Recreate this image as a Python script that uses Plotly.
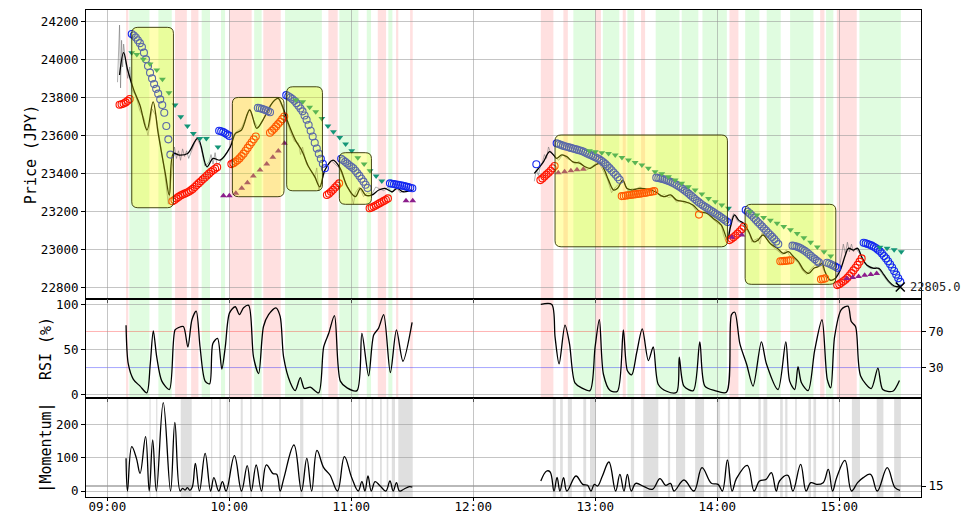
import plotly.graph_objects as go
from plotly.subplots import make_subplots

# ---------------- data (time = minutes after 09:00) ----------------
tick_minutes = [0, 60, 120, 180, 240, 300, 360]
tick_labels = ["09:00", "10:00", "11:00", "12:00", "13:00", "14:00", "15:00"]

# smoothed price, morning session
smooth1_t = [6, 8, 10, 13, 16, 19.5, 22.5, 25, 28.5, 30.5, 32.5, 35.5, 39.5, 44.5, 49, 52, 55.5, 60.5, 63, 66, 70,
             73.5, 76.5, 81.5, 84, 86.5, 89, 92.5, 95.5, 99, 102, 104.5, 107, 111, 114.5, 118, 122, 124.5, 127, 130,
             133.5, 136.5, 140, 142.5, 145.5, 150]
smooth1_p = [23918, 24035, 23944, 23839, 23760, 23629, 23777, 23611, 23401, 23287, 23506, 23497, 23506, 23585, 23436,
             23480, 23471, 23541, 23611, 23629, 23734, 23638, 23681, 23777, 23795, 23743, 23664, 23576, 23524, 23436,
             23384, 23331, 23419, 23471, 23428, 23331, 23279, 23323, 23287, 23287, 23314, 23323, 23305, 23323, 23305,
             23314]
# smoothed price, afternoon session
smooth2_t = [210, 212, 214.5, 217.5, 219.5, 221, 223.5, 226, 229, 232.5, 235, 237.5, 240, 242.5, 244.5, 246.5, 249,
             251, 253.5, 255.5, 258, 262, 266, 269.5, 273.5, 277, 280, 284, 288, 291.5, 295, 298, 302, 305, 306.5,
             308.5, 310.5, 313, 315.5, 318, 320, 322.5, 326, 329.5, 332.5, 335, 337.5, 340, 342.5, 345, 347.5, 349.5,
             351.5, 353, 355.5, 358, 360.5, 363, 364.5, 367, 369, 371, 373.5, 377, 379.5, 382, 384.5, 387, 390]
smooth2_p = [23401, 23427, 23462, 23515, 23498, 23480, 23498, 23489, 23462, 23454, 23436, 23428, 23445, 23454, 23419,
             23366, 23314, 23323, 23366, 23323, 23314, 23323, 23318, 23305, 23279, 23288, 23261, 23253, 23235, 23200,
             23191, 23165, 23130, 23055, 23121, 23183, 23156, 23139, 23095, 23042, 23051, 23078, 23034, 23008, 22981,
             22990, 22964, 22937, 22894, 22876, 22903, 22911, 22929, 22885, 22841, 22850, 22894, 22973, 23008, 22999,
             23008, 22964, 22920, 22903, 22903, 22868, 22833, 22810, 22805]

# raw (noisy) price
raw1_t = [5, 6, 6.5, 7, 7.5, 8, 9, 10, 11, 12, 14, 16, 18, 20, 22, 24, 26, 28, 30, 32, 33, 34, 35, 36, 37, 38, 39,
          40, 42, 44, 46, 48, 50, 51, 52, 53, 54, 56, 58, 60, 62, 64, 66, 68, 70, 72, 74, 76, 78, 80, 82, 84, 86, 88,
          90, 92, 94, 95, 96, 98, 100, 102, 103, 104, 105, 106, 108, 110, 112, 114, 116, 118, 120, 121, 122, 124, 126,
          128, 130, 132, 134, 136, 138, 140, 142, 144, 146, 148, 150]
raw1_p = [23880, 24180, 23850, 24100, 23960, 24080, 23990, 23900, 23960, 23840, 23810, 23730, 23690, 23600, 23740,
          23700, 23560, 23420, 23240, 23420, 23540, 23480, 23520, 23470, 23530, 23490, 23520, 23480, 23540, 23590,
          23540, 23440, 23460, 23500, 23450, 23510, 23440, 23470, 23500, 23530, 23600, 23625, 23640, 23690, 23740,
          23680, 23640, 23670, 23720, 23760, 23780, 23800, 23750, 23680, 23620, 23570, 23560, 23500, 23540, 23450,
          23420, 23380, 23430, 23310, 23350, 23380, 23440, 23470, 23450, 23430, 23380, 23330, 23290, 23240, 23300,
          23330, 23280, 23300, 23290, 23330, 23320, 23310, 23330, 23300, 23330, 23300, 23310, 23320, 23315]
raw2_t = [210, 211, 212, 213, 214, 215, 216, 217, 218, 220, 222, 224, 226, 228, 230, 232, 234, 236, 238, 240, 242,
          244, 246, 248, 250, 252, 254, 256, 258, 260, 262, 264, 266, 268, 270, 272, 274, 276, 278, 280, 282, 284,
          286, 288, 290, 292, 294, 296, 298, 300, 302, 303, 304, 305, 306, 307, 308, 309, 310, 312, 314, 316, 317,
          318, 320, 321, 322, 324, 326, 328, 330, 332, 334, 336, 338, 340, 342, 344, 346, 348, 350, 351, 352, 354,
          356, 358, 360, 361, 362, 363, 364, 365, 366, 367, 368, 370, 372, 374, 376, 378, 380, 382, 384, 386, 388, 390]
raw2_p = [23360, 23420, 23390, 23440, 23460, 23500, 23480, 23540, 23510, 23490, 23470, 23500, 23480, 23470, 23450,
          23465, 23440, 23420, 23435, 23450, 23455, 23410, 23370, 23300, 23330, 23350, 23360, 23310, 23320, 23320,
          23330, 23315, 23320, 23300, 23310, 23280, 23290, 23275, 23280, 23250, 23260, 23245, 23250, 23230, 23200,
          23195, 23200, 23180, 23160, 23140, 23130, 23080, 23050, 23060, 23110, 23160, 23190, 23170, 23150, 23140,
          23110, 23080, 23040, 23050, 23060, 23030, 23090, 23060, 23030, 23010, 22990, 22975, 23000, 22960, 22950,
          22930, 22890, 22870, 22900, 22920, 22910, 22950, 22900, 22860, 22840, 22850, 22900, 22960, 23030, 22980,
          23040, 22990, 23030, 22990, 23010, 22980, 22940, 22910, 22900, 22910, 22890, 22860, 22830, 22810, 22805,
          22805]

# stop-and-reverse dots: (first minute, values one per minute)
sar_below = [
    (6, [23762, 23764, 23768, 23774, 23782, 23792]),
    (32, [23255, 23262, 23270, 23278, 23285, 23290, 23295, 23300, 23305, 23312, 23320, 23330, 23340, 23350, 23360,
          23370, 23380, 23390, 23400, 23410, 23418, 23426, 23434]),
    (61, [23450, 23455, 23462, 23470, 23480, 23492, 23505, 23520, 23535, 23550, 23565, 23580, 23595]),
    (80, [23615, 23625, 23635, 23648, 23660, 23672, 23686, 23700]),
    (108, [23288, 23295, 23305, 23315, 23327, 23338, 23349]),
    (129, [23218, 23222, 23227, 23233, 23239, 23245, 23251, 23257, 23263, 23270]),
    (213, [23366, 23375, 23385, 23395, 23405, 23415, 23428, 23440]),
    (253, [23282, 23283, 23285, 23286, 23288, 23289, 23291, 23292, 23294, 23295, 23297, 23298, 23300, 23302, 23304,
           23306, 23308]),
    (291, [23185]),
    (306, [23051, 23058, 23066, 23075, 23085, 23096, 23108, 23121]),
    (331, [22940, 22941, 22942, 22943, 22944, 22945]),
    (351, [22845, 22847, 22850]),
    (359, [22815, 22820, 22827, 22835, 22843, 22853, 22865, 22878, 22892, 22906, 22921, 22938, 22955]),
]
sar_above = [
    (12, [24133, 24125, 24115, 24100, 24085, 24065, 24035, 24000, 23965, 23930, 23900, 23870, 23845, 23820, 23790,
          23760, 23720, 23650, 23580, 23500]),
    (55, [23625, 23622, 23618, 23612, 23605, 23598]),
    (74, [23745, 23743, 23740, 23737, 23733, 23728, 23722]),
    (88, [23812, 23806, 23800, 23792, 23782, 23770, 23757, 23742, 23727, 23705, 23683, 23655, 23625, 23595, 23562,
          23532, 23505, 23478, 23452, 23428]),
    (115, [23478, 23470, 23462, 23453, 23444, 23436, 23428, 23415, 23402, 23388, 23373, 23358, 23342, 23325]),
    (139, [23349, 23347, 23345, 23343, 23341, 23339, 23337, 23335, 23332, 23329, 23326, 23323]),
    (211, [23449]),
    (221, [23559, 23555, 23551, 23547, 23544, 23541, 23538, 23535, 23532, 23529, 23526, 23523, 23520, 23516, 23511,
           23506, 23501, 23496, 23491, 23486, 23481, 23475, 23467, 23459, 23450, 23440, 23429, 23418, 23406, 23394,
           23381, 23368]),
    (270, [23379, 23377, 23375, 23372, 23369, 23365, 23361, 23357, 23352, 23347, 23341, 23334, 23327, 23319, 23311,
           23303, 23294, 23285, 23276, 23267, 23258, 23249, 23241, 23233, 23226, 23219, 23212, 23205, 23198, 23191,
           23184, 23177, 23170, 23162, 23154, 23146]),
    (314, [23209, 23200, 23190, 23180, 23168, 23156, 23145, 23134, 23123, 23112, 23101, 23090, 23079, 23068, 23056,
           23044, 23030]),
    (337, [23022, 23020, 23017, 23013, 23008, 23002, 22995, 22987, 22978, 22969, 22960, 22951, 22942, 22934]),
    (354, [22932, 22928, 22923, 22918, 22912, 22906]),
    (372, [23037, 23034, 23031, 23027, 23022, 23016, 23009, 23001, 22992, 22981, 22968, 22955, 22940, 22924, 22907,
           22889, 22870, 22851, 22832]),
]

# slower trailing stops (triangles)
stop_down_t = [12, 14.5, 17.7, 21, 24.3, 27.1, 30.3, 33.3, 36.1, 39.4, 42.3, 45.5, 48.7, 54.4,
               92.8, 96.1, 99.5, 102.5, 105.5, 108.5, 111.2, 114.3, 117.2, 120.2, 123.2, 126.3, 129.2, 132.2, 135,
               237.1, 240, 243.2, 246.5, 249.8, 253.1, 256.3, 259.6, 262.9, 266.1, 269.4, 272.7, 276, 279.3, 282.5,
               285.8, 289.1, 292.4, 295.7, 299, 302.2, 305.5,
               316, 319.5, 322.8, 326.1, 329.4, 332.7, 336, 339.3, 342.6, 345.9, 349.2, 352.5, 355.8,
               380, 383.5, 387, 390.5]
stop_down_p = [24035, 24026, 24000, 23975, 23944, 23895, 23825, 23760, 23699, 23650, 23611, 23585, 23585, 23540,
               23786, 23777, 23748, 23725, 23690, 23650, 23620, 23590, 23555, 23520, 23483, 23450, 23415, 23387, 23361,
               23520, 23515, 23510, 23506, 23498, 23485, 23471, 23458, 23445, 23428, 23410, 23400, 23384, 23366, 23349,
               23331, 23314, 23293, 23270, 23253, 23235, 23218,
               23200, 23183, 23170, 23155, 23140, 23123, 23105, 23086, 23063, 23040, 23015, 22990, 22967,
               23013, 23008, 23000, 22990]
stop_up_t = [57.1, 60, 63.2, 66.1, 68.9, 71.8, 75.1, 78.4, 81.4, 84.1, 87.1, 146.9, 150.2,
             221.8, 224.9, 228, 231, 234.1, 307.2, 312.1,
             363.7, 366.6, 369.5, 372.5, 375.5, 378.4]
stop_up_p = [23284, 23284, 23297, 23323, 23352, 23387, 23419, 23450, 23486, 23519, 23559, 23258, 23258,
             23405, 23410, 23415, 23420, 23423, 23066, 23078,
             22850, 22855, 22860, 22866, 22871, 22876]

# highlighted consolidation boxes: (start, end, low, high)
boxes = [(12, 32.5, 23221, 24168), (61.5, 86.9, 23279, 23800), (88.2, 105.8, 23310, 23856),
         (114.1, 129.9, 23239, 23510), (220.2, 305, 23016, 23603), (313.7, 358.3, 22819, 23239)]

# RSI
rsi1_t = [9.2, 10.3, 12.8, 16.1, 19.4, 21.1, 22.6, 24.3, 26.8, 30.5, 33.3, 35, 37.4, 39.6, 41.6, 43.7, 45.6, 48.1,
          50.3, 51.9, 54.2, 56.3, 58, 60.1, 62.9, 65, 67, 69.5, 71.9, 74.4, 76.8, 79.3, 82.9, 85, 86.7, 90, 92.4,
          94.9, 96.9, 99.8, 103.9, 106.4, 108.9, 111.7, 114.6, 117.9, 122.8, 125.2, 128.5, 131, 133.4, 135.9, 139.2,
          142.2, 145.4, 149.9]
rsi1_v = [77, 34, 17, 9.4, 2, 34, 70.6, 41.5, 15, 5.7, 71.7, 74.3, 75.5, 52.8, 83, 92.5, 52.8, 15, 12, 56.6, 62.3,
          28.3, 52.8, 90.6, 97.4, 88.7, 96.2, 98.9, 41.5, 23.4, 75.5, 88.7, 96.2, 86.8, 41.5, 13.2, 4.5, 18.9, 6.8,
          8.3, 1.9, 52.8, 68, 87.5, 15, 7.5, 4.5, 68, 20.8, 66, 73.6, 88.7, 24.5, 71.7, 37, 80]
rsi2_t = [213.2, 218.6, 220.2, 222.2, 225.1, 227.3, 230, 233.3, 237.4, 239.9, 242, 244, 247.3, 250.9, 253.8, 255.8,
          257.9, 260.4, 263.1, 266.1, 268.5, 271, 275.1, 280, 281.3, 283.6, 288.2, 291.4, 293.9, 298.8, 304.5, 307,
          308.6, 311.1, 314.4, 317.6, 321.7, 324.2, 329.9, 333.7, 335.6, 338.1, 339.7, 341.4, 344.7, 347.9, 351.5,
          354.1, 355.8, 357.7, 361, 364.3, 365.9, 368, 370.5, 375.7, 379, 381.4, 386.3, 389.6]
rsi2_v = [100, 100, 64, 34, 77, 56.6, 13, 7.5, 4.5, 52.8, 83, 22.6, 4.5, 3.8, 71.7, 26.4, 21.9, 47, 72.8, 37.7,
          52.8, 11.3, 3.8, 2.6, 41.5, 9.4, 4.5, 58.5, 9.4, 4.5, 2.6, 88.7, 91.3, 56.6, 34, 9.4, 58.5, 34, 5.7, 58.5,
          15, 5.7, 31, 13.2, 4.5, 49, 83, 17, 7.5, 64, 94.3, 98, 81, 75.5, 20.8, 6.8, 29.4, 5.7, 3.8, 15.8]

# |Momentum|
mom1_t = [9.2, 9.9, 12, 14.3, 16.1, 18.8, 20.6, 22.3, 24.1, 27.5, 31.1, 33.2, 35.8, 37, 38.2, 39.4, 40.6, 41.8, 43.3,
          45.3, 48.1, 50.8, 52.4, 54.8, 56.6, 58.4, 62.5, 66, 68.8, 70.8, 73.2, 75.8, 78.2, 81.5, 83.3, 85, 86.8,
          91.8, 95.5, 98.1, 100.5, 103.1, 106.4, 109.5, 113.2, 116.6, 120.2, 123.4, 125.2, 126.7, 128.2, 129.8,
          131.7, 134.2, 137, 139, 140.6, 142.2, 143.7, 146, 148.5, 150]
mom1_v = [98, 0, 133, 98, 53, 163, 0, 153, 0, 265, 0, 206, 0, 8, 3, 10, 2, 12, 83, 0, 113, 0, 40, 0, 28, 0, 106, 0,
          76, 0, 78, 0, 78, 52, 50, 0, 38, 138, 0, 98, 0, 122, 70, 48, 0, 103, 40, 0, 28, 0, 45, 0, 28, 15, 0, 30, 0,
          25, 0, 6, 13, 12]
mom2_t = [213.2, 216.1, 217.8, 219.7, 221.2, 222.6, 224.4, 226, 230.5, 233.8, 236.2, 237.9, 239.5, 241.1, 243.5,
          246.7, 250, 252.1, 254.1, 255.8, 257.7, 259.9, 264, 268.1, 271.8, 274.6, 277, 278.7, 283.6, 288.5, 292.5,
          297.1, 300.4, 302.5, 305, 307.3, 309.4, 314.8, 318.1, 320.8, 324, 326.6, 329, 330.6, 334.7, 337.2, 341,
          343.7, 346, 349, 352.1, 354.6, 356.7, 358.7, 362.8, 366, 369, 371.8, 375.4, 378.7, 383.6, 387.4, 389.9]
mom2_v = [30, 60, 57, 0, 41, 0, 40, 0, 45, 20, 17, 0, 20, 15, 45, 87, 0, 50, 0, 50, 0, 23, 13, 5, 37, 17, 23, 0, 33,
          0, 70, 23, 20, 0, 93, 0, 37, 77, 0, 30, 35, 55, 0, 30, 47, 0, 80, 0, 25, 20, 25, 65, 0, 40, 92, 0, 25, 40,
          50, 0, 70, 10, 2]

# signal bands (start, end minute)
green_bands = [(10.8, 20.7), (25.1, 31.7), (46.4, 50.5), (55.9, 57.9), (72.2, 75.9), (87.4, 105.5), (114.1, 123.5),
               (127.6, 129.7), (138.2, 140.2), (229.2, 239.9), (243.7, 251.8), (255.8, 259.1), (269.7, 281.4),
               (282.5, 290.7), (292.7, 304.7), (313.7, 320.7), (324.3, 331.2), (335.8, 347.3), (353.5, 357.1),
               (369.9, 390.3)]
red_bands = [(9.2, 10.3), (33.3, 39.1), (41.2, 44.8), (60, 71), (76.7, 85.3), (108.7, 113.3), (133, 137.1),
             (142, 143.1), (148.9, 150.2), (213.2, 219.4), (224.3, 226.5), (239.9, 242.8), (253.5, 255),
             (262.5, 264.5), (306, 310.4), (350.6, 352.7), (358.8, 368.6)]
gray_bands = [(9.5, 10.3), (20.7, 21.3), (24, 24.6), (36.1, 41.5), (51, 51.6), (55.1, 55.9), (58.7, 59.5),
              (65.6, 66.6), (70.2, 71), (75.9, 76.7), (84.5, 85.4), (94.8, 96.4), (105.5, 106.2), (112.8, 114),
              (123.5, 124.3), (126.8, 127.6), (130, 130.8), (134.1, 135), (137.4, 138.2), (139.9, 141.5),
              (143.1, 150.2), (219.1, 220.6), (222.7, 224), (226.5, 228.5), (234.1, 235.5), (237.4, 240.2),
              (257.5, 259.1), (263.6, 271), (275.7, 276.8), (279.7, 284.2), (289.1, 293.5), (299.8, 301.4),
              (305.2, 306), (310.4, 311.7), (320.2, 321.4), (322.7, 324.6), (330.9, 332.2), (333.4, 334.5),
              (338.3, 339.1), (344.8, 346.1), (347.3, 348.6), (353.9, 354.7), (356.3, 357.5), (366.2, 370.2),
              (378.4, 381.7), (387, 390.3)]

last_t = 390
last_price = 22805.0

# ---------------- figure ----------------
FONT = "DejaVu Sans Mono"
fig = make_subplots(rows=3, cols=1, shared_xaxes=True, vertical_spacing=0)

D1 = [0.4066, 1.0]
D2 = [0.2033, 0.4066]
D3 = [0.0, 0.2033]

for tt, pp in [(raw1_t, raw1_p), (raw2_t, raw2_p)]:
    fig.add_trace(go.Scatter(x=tt, y=pp, mode="lines", line=dict(color="rgba(110,110,110,0.55)", width=1),
                             hoverinfo="skip", showlegend=False), row=1, col=1)
for tt, pp in [(smooth1_t, smooth1_p), (smooth2_t, smooth2_p)]:
    fig.add_trace(go.Scatter(x=tt, y=pp, mode="lines", line=dict(color="black", width=1.3, shape="spline"),
                             showlegend=False), row=1, col=1)


def seg_points(segs):
    xs, ys = [], []
    for start, vals in segs:
        for i, v in enumerate(vals):
            xs.append(start + i)
            ys.append(v)
    return xs, ys


bx, by = seg_points(sar_below)
ax_, ay_ = seg_points(sar_above)
fig.add_trace(go.Scatter(x=bx, y=by, mode="markers",
                         marker=dict(symbol="circle-open", size=7, color="rgb(255,20,0)", line=dict(width=1.1)),
                         showlegend=False), row=1, col=1)
fig.add_trace(go.Scatter(x=ax_, y=ay_, mode="markers",
                         marker=dict(symbol="circle-open", size=7, color="rgb(20,40,240)", line=dict(width=1.1)),
                         showlegend=False), row=1, col=1)
fig.add_trace(go.Scatter(x=stop_down_t, y=stop_down_p, mode="markers",
                         marker=dict(symbol="triangle-down", size=6, color="rgb(20,150,120)"),
                         showlegend=False), row=1, col=1)
fig.add_trace(go.Scatter(x=stop_up_t, y=stop_up_p, mode="markers",
                         marker=dict(symbol="triangle-up", size=6, color="rgb(140,30,140)"),
                         showlegend=False), row=1, col=1)
fig.add_trace(go.Scatter(x=[last_t], y=[last_price], mode="markers",
                         marker=dict(symbol="x-thin-open", size=9, color="black", line=dict(width=1.5, color="black")),
                         cliponaxis=False, showlegend=False), row=1, col=1)

for tt, vv in [(rsi1_t, rsi1_v), (rsi2_t, rsi2_v)]:
    fig.add_trace(go.Scatter(x=tt, y=vv, mode="lines", line=dict(color="black", width=1.3, shape="spline", smoothing=0.8),
                             showlegend=False), row=2, col=1)
for tt, vv in [(mom1_t, mom1_v), (mom2_t, mom2_v)]:
    fig.add_trace(go.Scatter(x=tt, y=vv, mode="lines", line=dict(color="black", width=1.3, shape="spline", smoothing=1.1),
                             showlegend=False), row=3, col=1)

# dummy traces for right-side axes
fig.add_trace(go.Scatter(x=[None], y=[None], xaxis="x2", yaxis="y4", showlegend=False))
fig.add_trace(go.Scatter(x=[None], y=[None], xaxis="x3", yaxis="y5", showlegend=False))

shapes = []
for a, b in green_bands:
    shapes.append(dict(type="rect", xref="x", yref="paper", x0=a, x1=b, y0=D2[0], y1=1, layer="below",
                       line=dict(width=0), fillcolor="rgba(0,230,0,0.12)"))
for a, b in red_bands:
    shapes.append(dict(type="rect", xref="x", yref="paper", x0=a, x1=b, y0=D2[0], y1=1, layer="below",
                       line=dict(width=0), fillcolor="rgba(255,0,0,0.12)"))
for a, b in gray_bands:
    shapes.append(dict(type="rect", xref="x", yref="paper", x0=a, x1=b, y0=0, y1=D3[1], layer="below",
                       line=dict(width=0), fillcolor="rgba(128,128,128,0.25)"))


def rbox(x0, x1, y0, y1, rx=3.0, ry=31.0):
    return (f"M {x0 + rx},{y0} L {x1 - rx},{y0} Q {x1},{y0} {x1},{y0 + ry} L {x1},{y1 - ry} "
            f"Q {x1},{y1} {x1 - rx},{y1} L {x0 + rx},{y1} Q {x0},{y1} {x0},{y1 - ry} "
            f"L {x0},{y0 + ry} Q {x0},{y0} {x0 + rx},{y0} Z")


for a, b, lo, hi in boxes:
    shapes.append(dict(type="path", xref="x", yref="y", path=rbox(a, b, lo, hi), layer="above",
                       fillcolor="rgba(255,255,0,0.3)", line=dict(color="rgba(50,50,0,0.9)", width=1)))

shapes.append(dict(type="line", xref="paper", yref="y2", x0=0, x1=1, y0=70, y1=70, layer="between",
                   line=dict(color="rgba(255,0,0,0.3)", width=1)))
shapes.append(dict(type="line", xref="paper", yref="y2", x0=0, x1=1, y0=30, y1=30, layer="between",
                   line=dict(color="rgba(0,0,255,0.35)", width=1)))
shapes.append(dict(type="line", xref="paper", yref="y3", x0=0, x1=1, y0=15, y1=15, layer="between",
                   line=dict(color="rgba(80,80,80,0.8)", width=1)))

fig.update_layout(
    width=961, height=508,
    margin=dict(l=78, r=48, t=2, b=19, autoexpand=False),
    plot_bgcolor="white", paper_bgcolor="white",
    font=dict(family=FONT, size=12.5, color="black"),
    shapes=shapes,
    annotations=[dict(x=last_t, y=last_price, xref="x", yref="y", text=f"{last_price:.1f}", showarrow=False,
                      xanchor="left", yanchor="middle", xshift=8, font=dict(family=FONT, size=12, color="#222"))],
)

grid = "rgba(150,150,150,0.55)"
xcommon = dict(range=[-10.5, 400.2], tickvals=tick_minutes, ticktext=tick_labels, showgrid=True, gridcolor=grid,
               gridwidth=1.2, zeroline=False, showline=True, linecolor="black", linewidth=1, mirror=True,
               ticks="outside", ticklen=3, tickcolor="black", automargin=False)
fig.update_xaxes(**xcommon)
fig.update_xaxes(showticklabels=False, row=1, col=1)
fig.update_xaxes(showticklabels=False, row=2, col=1)
fig.update_xaxes(showticklabels=True, ticklabelstandoff=-5, row=3, col=1)

ycommon = dict(showgrid=True, gridcolor=grid, gridwidth=1.2, zeroline=False, showline=True, linecolor="black",
               linewidth=1, mirror=True, ticks="outside", ticklen=4, tickcolor="black", automargin=False,
               tickformat="d")
fig.update_yaxes(**ycommon)
fig.update_layout(
    yaxis=dict(domain=D1, range=[22742, 24259], tickvals=[22800, 23000, 23200, 23400, 23600, 23800, 24000, 24200],
               title=dict(text="Price (JPY)", standoff=0)),
    yaxis2=dict(domain=D2, range=[-3.7, 106], tickvals=[0, 50, 100], title=dict(text="RSI (%)", standoff=0)),
    yaxis3=dict(domain=D3, range=[-18, 279], tickvals=[0, 100, 200], title=dict(text="|Momentum|", standoff=0)),
    yaxis4=dict(domain=D2, range=[-3.7, 106], overlaying="y2", side="right", anchor="x2", tickvals=[30, 70],
                showgrid=False, zeroline=False, ticks="outside", ticklen=4, tickcolor="black", showline=False,
                automargin=False),
    yaxis5=dict(domain=D3, range=[-18, 279], overlaying="y3", side="right", anchor="x3", tickvals=[15],
                showgrid=False, zeroline=False, ticks="outside", ticklen=4, tickcolor="black", showline=False,
                automargin=False),
)

fig.write_html("out.html")
